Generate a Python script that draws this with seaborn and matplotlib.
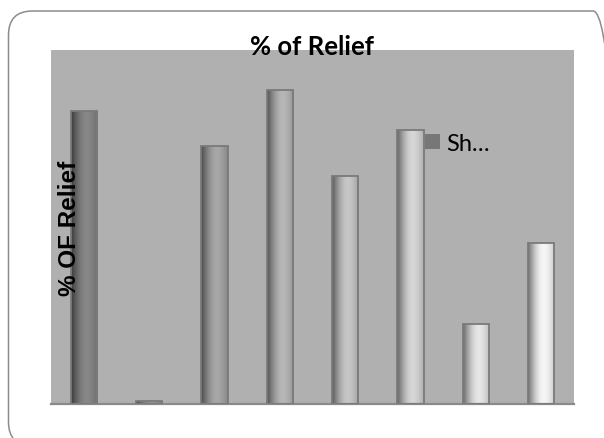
import numpy as np
import pandas as pd
import matplotlib
matplotlib.use("Agg")
import matplotlib.pyplot as plt
from matplotlib.patches import FancyBboxPatch, Patch
from matplotlib.transforms import IdentityTransform
import seaborn as sns

# Share of relief per category
categories = ["C1", "C2", "C3", "C4", "C5", "C6", "C7", "C8"]
relief_pct = [14.9, 0.13, 13.1, 15.95, 11.6, 13.95, 4.07, 8.2]
series_name = "Sh…"
title_text = "% of Relief"
ylabel_text = "% OF Relief"

df = pd.DataFrame({"category": categories, "relief": relief_pct})

sns.set_theme(style="white")
plt.rcParams["font.family"] = ["Lato", "DejaVu Sans"]

W, H = 604, 439
fig = plt.figure(figsize=(W / 100, H / 100), dpi=100)
fig.patch.set_facecolor("white")

# Rounded outer frame in pixel units (runs off the right and bottom edges)
fx0, fx1, ftop, fbot = 8.5, 617, 12, 447
frame = FancyBboxPatch((fx0, H - fbot), fx1 - fx0, fbot - ftop,
                       boxstyle="round,pad=0,rounding_size=24",
                       transform=IdentityTransform(), facecolor="none",
                       edgecolor="#8c8c8c", linewidth=1.1, zorder=0)
fig.patches.append(frame)

left, right, top, bottom = 51, 574, 51, 405
ax = fig.add_axes([left / W, 1 - bottom / H, (right - left) / W, (bottom - top) / H])
ax.set_facecolor("#b0b0b0")

sns.barplot(data=df, x="category", y="relief", ax=ax, width=0.4,
            color="#888888", edgecolor="#7a7a7a", linewidth=1.3)

# Cylinder-style shading for every bar, lighter towards the right
u = np.linspace(0, 1, 64)
profile = np.where(u < 0.6, np.sin(np.pi / 2 * u / 0.6), 1 - 0.35 * ((u - 0.6) / 0.4) ** 1.5)
n = len(ax.patches)
for i, bar in enumerate(ax.patches):
    t = i / max(n - 1, 1)
    dark = (0x3c + t * 0x38) / 255
    high = (0x88 + t * (0xf6 - 0x88)) / 255
    vals = dark + (high - dark) * profile
    img = np.tile(vals, (2, 1))
    x0, w, h = bar.get_x(), bar.get_width(), bar.get_height()
    im = ax.imshow(img, cmap="gray", vmin=0, vmax=1, aspect="auto",
                   extent=[x0, x0 + w, 0, h], interpolation="bilinear", zorder=2)
    im.set_clip_path(bar)
    bar.set_facecolor("none")
    bar.set_zorder(3)

ax.set_ylim(0, 18)
ax.set_xlim(-0.5, len(categories) - 0.5)

ax.set_xticks([])
ax.set_yticks([])
ax.set_xlabel("")
for s in ["left", "right", "top"]:
    ax.spines[s].set_visible(False)
ax.spines["bottom"].set_color("#8a8a8a")
ax.spines["bottom"].set_linewidth(1.6)

ax.set_title(title_text, fontsize=18.5, fontweight="bold", y=0.966,
             va="baseline", color="black")
ax.set_ylabel(ylabel_text, fontsize=17.5, fontweight="bold", va="center",
              family=["Liberation Sans", "DejaVu Sans"], color="black")
ax.yaxis.set_label_coords(0.0354, 0.5)
ax.yaxis.set_zorder(10)

leg = ax.legend(handles=[Patch(facecolor="#777777", edgecolor="none")], labels=[series_name],
                loc="center left", bbox_to_anchor=(0.716, 0.736), frameon=False,
                fontsize=17, handlelength=0.62, handleheight=0.62, handletextpad=0.25,
                borderpad=0, borderaxespad=0)
for txt in leg.get_texts():
    txt.set_color("black")

fig.savefig("out.png", dpi=100)
